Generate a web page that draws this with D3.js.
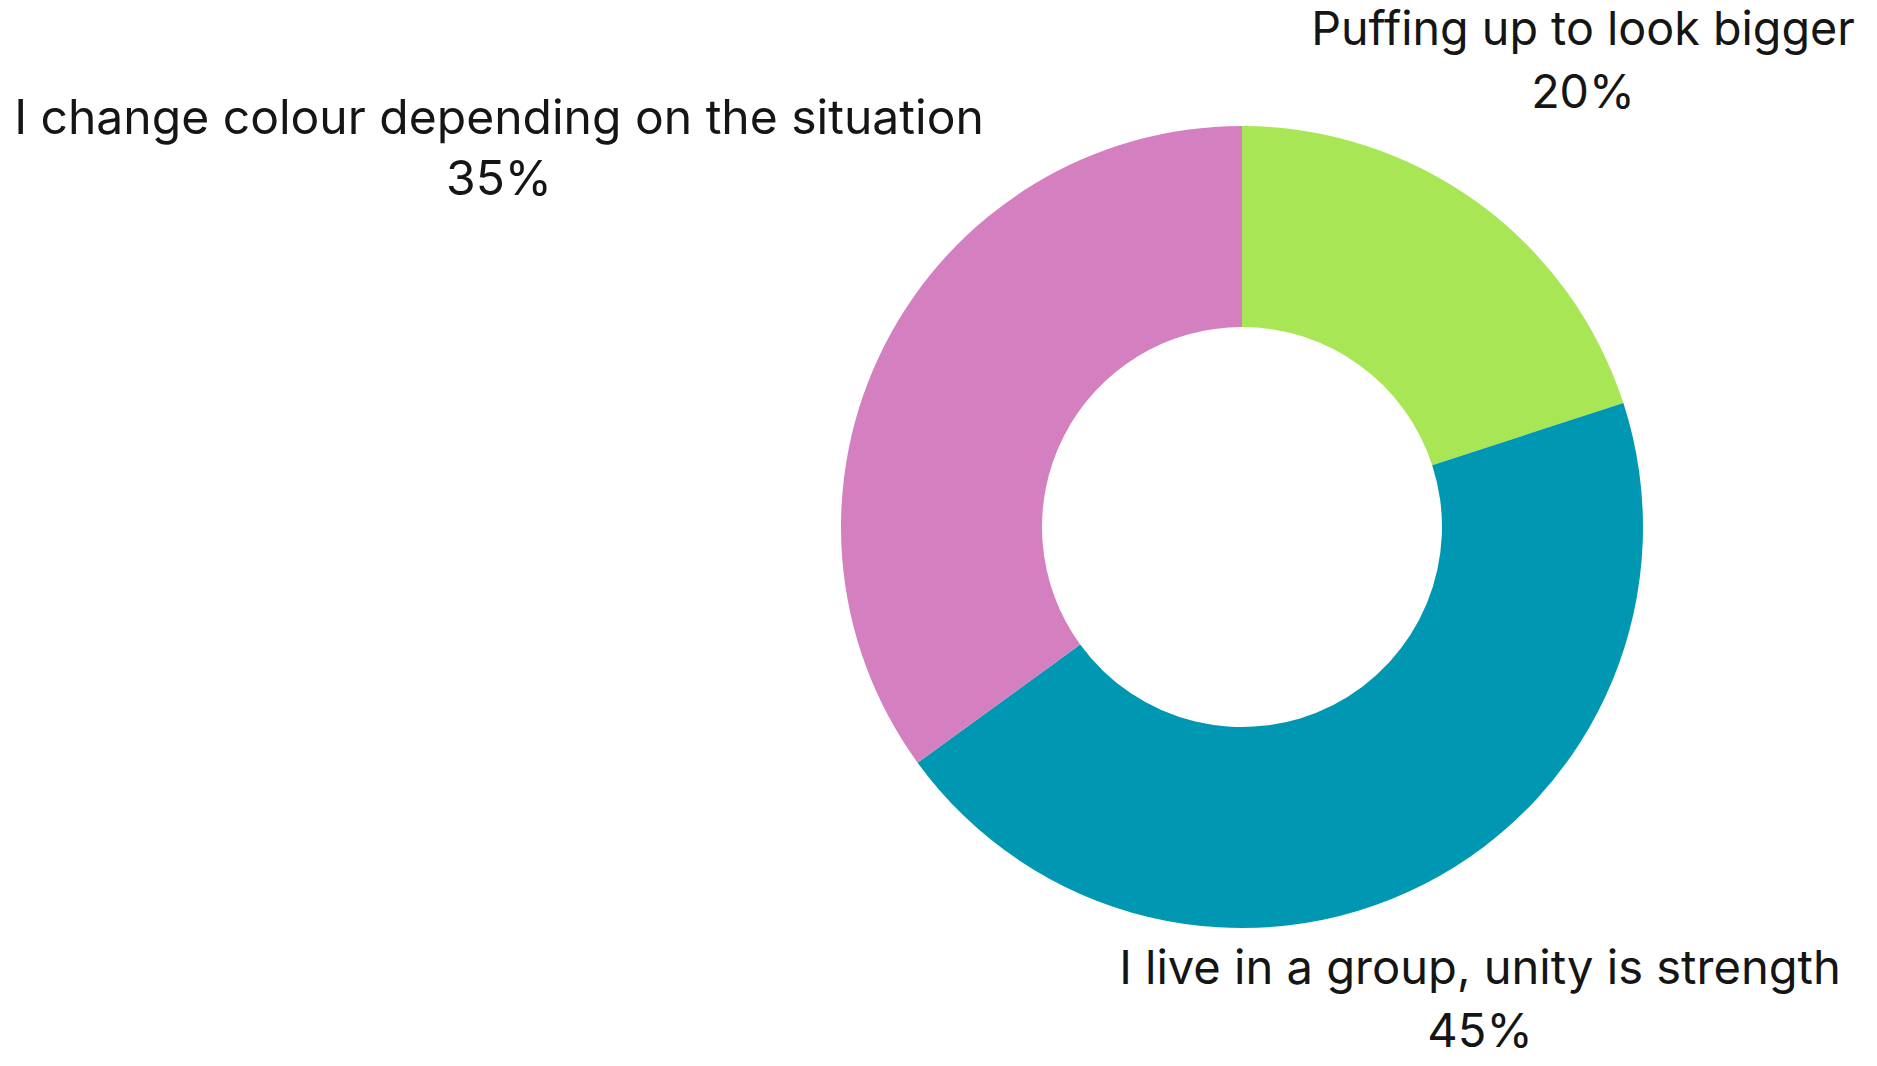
<!DOCTYPE html>
<html>
<head>
<meta charset="utf-8">
<script src="https://cdn.jsdelivr.net/npm/d3@7"></script>
<style>
  html, body { margin: 0; padding: 0; background: #ffffff; }
  svg { display: block; }
  text { font-family: "Inter", "Liberation Sans", sans-serif; fill: #151515; }
</style>
</head>
<body>
<svg id="chart" width="1877" height="1066"></svg>
<script>
const categories = ["Puffing up to look bigger", "I live in a group, unity is strength", "I change colour depending on the situation"];
const values = [20, 45, 35];
const colors = ["#a8e655", "#0097b2", "#d47fc0"];
const valueLabels = ["20%", "45%", "35%"];

const W = 1877, H = 1066;
const cx = 1242, cy = 527, outerR = 401, innerR = 200;

const svg = d3.select("#chart");
const g = svg.append("g").attr("transform", `translate(${cx},${cy})`);

const data = categories.map((c, i) => ({ name: c, value: values[i], color: colors[i], label: valueLabels[i] }));
const pie = d3.pie().sort(null).value(d => d.value);
const arc = d3.arc().innerRadius(innerR).outerRadius(outerR);

g.selectAll("path.slice")
  .data(pie(data))
  .join("path")
  .attr("class", "slice")
  .attr("d", arc)
  .attr("fill", d => d.data.color);

// label anchors (centers of text blocks), in page coordinates
const labelPos = [
  { x: 1583, y1: 45, y2: 108, w: 544 },
  { x: 1480, y1: 984, y2: 1047, w: 722 },
  { x: 499, y1: 134, y2: 195, w: 970 }
];

const labels = svg.append("g");
data.forEach((d, i) => {
  const p = labelPos[i];
  const t1 = labels.append("text")
    .attr("x", p.x).attr("y", p.y1)
    .attr("text-anchor", "middle")
    .attr("font-size", 44)
    .text(d.name);
  const len = t1.node().getComputedTextLength();
  const fs = 44 * p.w / len;
  t1.attr("font-size", fs);
  labels.append("text")
    .attr("x", p.x).attr("y", p.y2)
    .attr("text-anchor", "middle")
    .attr("font-size", fs)
    .text(d.label);
});
</script>
</body>
</html>
